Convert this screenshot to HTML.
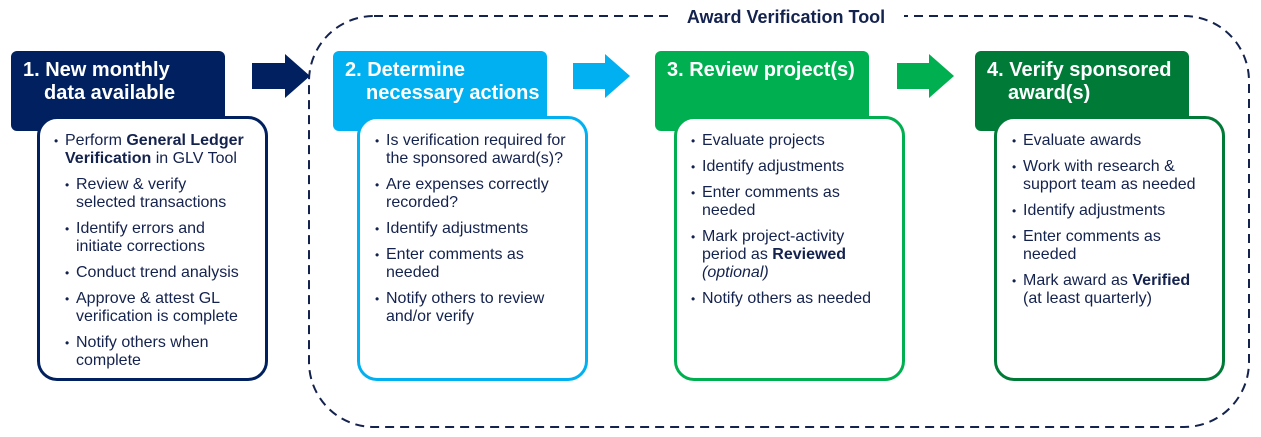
<!DOCTYPE html>
<html><head><meta charset="utf-8"><style>
body{margin:0;width:1261px;height:437px;background:#fff;position:relative;overflow:hidden;font-family:"Liberation Sans",Arial,sans-serif;}
.a{position:absolute;}
.hd{position:absolute;width:214px;height:80px;border-radius:6px;color:#fff;font-weight:bold;font-size:20px;line-height:23px;box-sizing:border-box;padding:8px 0 0 12px;white-space:nowrap;}
.hd span{display:block;padding-left:21px;}
.bd{position:absolute;top:116px;width:231px;height:265px;border:3px solid;border-radius:20px;background:#fff;box-sizing:border-box;color:#14224e;font-size:16px;line-height:18px;white-space:nowrap;}
ul{margin:0;padding:0;list-style:none;}
li{position:relative;padding-left:11px;margin-bottom:8px;}
li:before{content:"•";position:absolute;left:0;font-size:12px;}
li ul{margin-top:8px;}
</style></head><body>
<svg class="a" style="left:0;top:0" width="1261" height="437">
<rect x="309" y="16" width="940" height="411" rx="65" fill="none" stroke="#14224e" stroke-width="2" stroke-dasharray="9,6"/>
<rect x="668" y="4" width="236" height="24" fill="#fff"/>
<polygon points="252,63 285,63 285,54 310,76 285,98 285,89 252,89" fill="#002060"/>
<polygon points="573,63 605,63 605,54 630,76 605,98 605,89 573,89" fill="#00b0f0"/>
<polygon points="897,63 929,63 929,54 954,76 929,98 929,89 897,89" fill="#00b050"/>
</svg>
<div class="a" style="left:668px;top:7px;width:236px;text-align:center;font-weight:bold;font-size:18px;color:#14224e;">Award Verification Tool</div>

<div class="hd" style="left:11px;top:51px;background:#002060">1. New monthly<span>data available</span></div>
<div class="bd" style="left:37px;border-color:#002060;padding:13px 0 0 14px;">
<ul><li>Perform <b>General Ledger<br>Verification</b> in GLV Tool
<ul><li>Review &amp; verify<br>selected transactions</li><li>Identify errors and<br>initiate corrections</li><li>Conduct trend analysis</li><li>Approve &amp; attest GL<br>verification is complete</li><li>Notify others when<br>complete</li></ul></li></ul></div>

<div class="hd" style="left:333px;top:51px;background:#00b0f0">2. Determine<span>necessary actions</span></div>
<div class="bd" style="left:357px;border-color:#00b0f0;padding:13px 0 0 15px;">
<ul><li>Is verification required for<br>the sponsored award(s)?</li><li>Are expenses correctly<br>recorded?</li><li>Identify adjustments</li><li>Enter comments as<br>needed</li><li>Notify others to review<br>and/or verify</li></ul></div>

<div class="hd" style="left:655px;top:51px;background:#00b050">3. Review project(s)</div>
<div class="bd" style="left:674px;border-color:#00b050;padding:13px 0 0 14px;">
<ul><li>Evaluate projects</li><li>Identify adjustments</li><li>Enter comments as<br>needed</li><li>Mark project-activity<br>period as <b>Reviewed</b><br><i>(optional)</i></li><li>Notify others as needed</li></ul></div>

<div class="hd" style="left:975px;top:51px;background:#007a37">4. Verify sponsored<span>award(s)</span></div>
<div class="bd" style="left:994px;border-color:#007a37;padding:13px 0 0 15px;">
<ul><li>Evaluate awards</li><li>Work with research &amp;<br>support team as needed</li><li>Identify adjustments</li><li>Enter comments as<br>needed</li><li>Mark award as <b>Verified</b><br>(at least quarterly)</li></ul></div>
</body></html>
